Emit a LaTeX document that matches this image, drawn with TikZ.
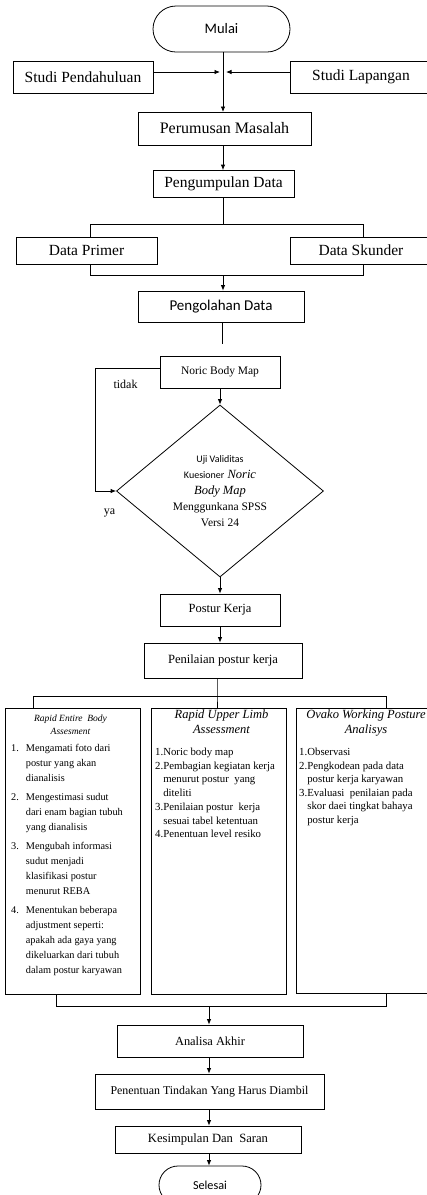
\documentclass[tikz,border=0pt]{standalone}
\usepackage{fontspec}
\setmainfont{Liberation Serif}
\newfontfamily\calfont{Carlito}
\usetikzlibrary{arrows.meta,shapes.geometric,calc}
\newcommand{\fsz}[2]{\fontsize{#1}{#2}\selectfont}
\begin{document}
\begin{tikzpicture}[x=1pt,y=-1pt,
  box/.style={draw, line width=0.8pt, inner sep=0pt, align=center},
  term/.style={box},
  ln/.style={line width=0.8pt},
  ar/.style={line width=0.8pt, -{Latex[length=5.5pt,width=4.5pt]}},
  lbl/.style={inner sep=0pt, font=\fsz{12}{14}}
]
\useasboundingbox (0,0) rectangle (427,1195);
% top part
\node[term, rounded corners=23pt, minimum width=137pt, minimum height=46pt, font=\calfont\fsz{14.5}{17}] (mulai) at (221.5,29) {Mulai};
\node[box, minimum width=140pt, minimum height=32pt, font=\fsz{15.5}{18}] (sp) at (83,77) {Studi Pendahuluan};
\node[box, minimum width=142pt, minimum height=32pt, font=\fsz{15.5}{18}] (sl) at (361,77) {Studi Lapangan};
\node[box, minimum width=173pt, minimum height=33pt, font=\fsz{16}{19}] (pm) at (224.5,128.5) {Perumusan Masalah};
\node[box, minimum width=141pt, minimum height=27pt, font=\fsz{15.5}{18}] (pd) at (223.5,184) {Pengumpulan Data};
\node[box, minimum width=141pt, minimum height=27pt, font=\fsz{15.5}{18}] (dp) at (86.5,250.5) {Data Primer};
\node[box, minimum width=142pt, minimum height=27pt, font=\fsz{15.5}{18}] (ds) at (361,250.5) {Data Skunder};
\node[box, minimum width=166pt, minimum height=31pt, font=\calfont\fsz{15}{18}] (po) at (221,306.5) {Pengolahan Data};
% middle
\node[box, minimum width=120pt, minimum height=32pt, font=\fsz{11.5}{14}] (nbm) at (220,372) {Noric Body Map};
\node[draw, line width=0.8pt, shape=diamond, aspect=1.2, inner sep=0pt, minimum width=207pt, minimum height=172pt] (dia) at (220,491)
  {\fsz{11.5}{16}\begin{tabular}{@{}c@{}}
   {\calfont\fsz{10}{12}Uji Validitas}\\
   {\calfont\fsz{10}{12}Kuesioner}{\itshape\fsz{12.5}{14} Noric}\\
   {\itshape\fsz{12.5}{14}Body Map}\\
   Menggunkana SPSS\\
   Versi 24
  \end{tabular}};
\node[lbl] (tidak) at (125.5,384) {tidak};
\node[lbl] (ya) at (109.5,513) {ya};
\node[box, minimum width=120pt, minimum height=32pt, font=\fsz{12.5}{15}] (pk) at (220,610) {Postur Kerja};
\node[box, minimum width=158pt, minimum height=35pt, font=\fsz{12.6}{15}] (pp) at (223,660.5) {Penilaian postur kerja};
% three method boxes
\node[box, minimum width=135pt, minimum height=286pt] (reba) at (72.5,851) {};
\node[box, minimum width=135pt, minimum height=286pt] (rula) at (218.5,851) {};
\node[box, minimum width=140pt, minimum height=285pt] (owas) at (366,850.5) {};
\node[inner sep=0pt, anchor=north, font=\itshape\fsz{9.5}{13}, align=center] (rebat) at (70.5,715) {Rapid Entire\ \ Body\\Assesment};
\node[inner sep=0pt, anchor=north west, font=\fsz{10.3}{15}] (rebal) at (11,741)
 {\begin{tabular}{@{}l@{\hspace{7pt}}l@{}}
 1. & Mengamati foto dari\\
    & postur yang akan\\
    & dianalisis\\[4pt]
 2. & Mengestimasi sudut\\
    & dari enam bagian tubuh\\
    & yang dianalisis\\[4pt]
 3. & Mengubah informasi\\
    & sudut menjadi\\
    & klasifikasi postur\\
    & menurut REBA\\[4pt]
 4. & Menentukan beberapa\\
    & adjustment seperti:\\
    & apakah ada gaya yang\\
    & dikeluarkan dari tubuh\\
    & dalam postur karyawan
 \end{tabular}};
\node[inner sep=0pt, anchor=north, font=\itshape\fsz{12.5}{15}, align=center] (rulat) at (221.5,710) {Rapid Upper Limb\\Assessment};
\node[inner sep=0pt, anchor=north west, font=\fsz{10.8}{13.5}] (rulal) at (155,746)
 {\begin{tabular}{@{}l@{}l@{}}
 1. & Noric body map\\
 2. & Pembagian kegiatan kerja\\
    & menurut postur\ \ yang\\
    & diteliti\\[1pt]
 3. & Penilaian postur\ \ kerja\\
    & sesuai tabel ketentuan\\
 4. & Penentuan level resiko
 \end{tabular}};
\node[inner sep=0pt, anchor=north, font=\itshape\fsz{12.5}{15}, align=center] (owast) at (366,710) {Ovako Working Posture\\Analisys};
\node[inner sep=0pt, anchor=north west, font=\fsz{10.8}{13.5}] (owasl) at (299,746)
 {\begin{tabular}{@{}l@{}l@{}}
 1. & Observasi\\
 2. & Pengkodean pada data\\
    & postur kerja karyawan\\
 3. & Evaluasi\ \ penilaian pada\\
    & skor daei tingkat bahaya\\
    & postur kerja
 \end{tabular}};
% bottom
\node[box, minimum width=186pt, minimum height=32pt, font=\fsz{12.4}{15}] (aa) at (210,1041) {Analisa Akhir};
\node[box, minimum width=229pt, minimum height=35pt, font=\fsz{11.9}{14}] (pt) at (209.5,1091.5) {Penentuan Tindakan Yang Harus Diambil};
\node[box, minimum width=186pt, minimum height=27pt, font=\fsz{12.6}{15}] (ks) at (208,1139.5) {\raisebox{-3.5pt}{Kesimpulan Dan\ \ Saran}};
\node[term, rounded corners=19pt, minimum width=102pt, minimum height=38pt, font=\calfont\fsz{12.2}{14}] (sel) at (210,1185) {Selesai};
% connectors top
\coordinate (jl) at (220,72);
\coordinate (jr) at (226,72);
\draw[ar] (sp.east |- jl) -- (jl);
\draw[ar] (sl.west |- jr) -- (jr);
\draw[ar] (mulai.south -| 223,0) -- (223,112);
\draw[ar] (pm.south -| 223,0) -- (pd.north -| 223,0);
\coordinate (bl) at (90,224);
\coordinate (br) at (363,224);
\draw[ln] (pd.south -| 223,0) -- (223,224);
\draw[ln] (bl |- dp.north) -- (bl) -- (br) -- (br |- ds.north);
\coordinate (ml) at (90,275);
\coordinate (mr) at (363,275);
\draw[ln] (ml |- dp.south) -- (ml) -- (mr) -- (mr |- ds.south);
\draw[ar] (223,275) -- (po.north -| 223,0);
\coordinate (poend) at (222,344);
\draw[ln] (po.south -| poend) -- (poend);
% middle connectors
\draw[ar] (nbm.south) -- (dia.north);
\draw[ar] ([yshift=4pt]nbm.west) -- ++(-64,0) |- (dia.west);
\draw[ar] (dia.south) -- (pk.north);
\draw[ar] (pk.south) -- (pk.south |- pp.north);
\coordinate (s) at (217,696);
\coordinate (sl2) at (33,696);
\coordinate (sr2) at (386,696);
\draw[ln] (pp.south -| s) -- (s) -- (s |- rula.north);
\draw[ln] (sl2 |- reba.north) -- (sl2) -- (sr2) -- (sr2 |- owas.north);
\coordinate (ql) at (56,1006);
\coordinate (qr) at (386,1006);
\draw[ln] (ql |- reba.south) -- (ql) -- (qr) -- (qr |- owas.south);
\draw[ar] (209,1006) -- (aa.north -| 209,0);
\draw[ar] (aa.south -| 209,0) -- (pt.north -| 209,0);
\draw[ar] (pt.south -| 209,0) -- (ks.north -| 209,0);
\draw[ar] (ks.south -| 209,0) -- (sel.north -| 209,0);
\end{tikzpicture}
\end{document}
